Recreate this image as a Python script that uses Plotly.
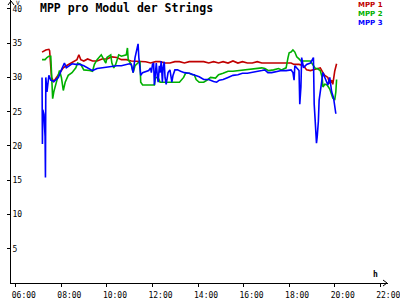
import plotly.graph_objects as go

# ---------------- data ----------------
mpp1_t = ["07:09","07:14","07:19","07:27","07:29","07:34","07:40","07:47","07:57","08:05","08:13","08:23","08:33","08:41","08:46","08:51","08:59","09:09","09:22","09:34","09:47","10:00","10:13","10:26","10:38","10:51","11:04","11:17","11:29","11:42","11:55","12:08","12:20","12:33","12:46","12:59","13:11","13:24","13:37","13:50","14:03","14:15","14:28","14:41","14:54","15:06","15:19","15:32","15:45","15:57","16:10","16:23","16:36","16:48","17:01","17:14","17:27","17:40","17:52","18:05","18:13","18:26","18:38","18:46","18:56","19:04","19:14","19:22","19:29","19:34","19:42","19:47","19:52","19:55","20:00","20:03","20:05"]
mpp1_v = [33.7,33.9,34.0,34.1,33.9,30.0,29.4,30.0,30.7,31.4,31.7,32.0,32.3,32.6,33.3,32.6,32.4,32.7,32.4,32.4,32.7,32.7,33.0,32.9,32.6,32.6,32.4,32.4,32.3,32.3,32.1,32.3,32.3,32.1,32.1,32.3,32.3,32.1,32.3,32.3,32.4,32.3,32.1,32.3,32.1,32.3,32.1,32.4,32.1,32.3,32.1,32.1,32.3,32.1,32.1,32.1,32.1,32.1,32.0,32.1,31.9,31.9,31.7,31.1,31.0,31.1,31.3,31.4,30.7,30.3,30.0,29.1,29.6,29.0,30.9,31.7,32.0]

mpp2_t = ["07:09","07:17","07:22","07:27","07:32","07:34","07:37","07:40","07:45","07:50","07:55","08:00","08:05","08:10","08:18","08:28","08:38","08:43","08:51","08:59","09:09","09:14","09:22","09:27","09:34","09:45","09:52","09:57","10:00","10:10","10:13","10:18","10:23","10:31","10:38","10:51","10:54","10:56","11:04","11:09","11:14","11:22","11:27","11:29","11:34","12:05","12:08","12:15","12:20","12:38","13:11","13:22","13:27","13:37","13:45","13:50","13:55","14:03","14:15","14:26","14:33","14:46","14:54","15:06","15:19","15:32","15:45","15:57","16:10","16:23","16:36","16:48","16:56","17:06","17:19","17:32","17:40","17:52","17:57","18:00","18:05","18:10","18:15","18:20","18:26","18:31","18:56","19:01","19:09","19:14","19:22","19:27","19:29","19:34","19:40","19:47","19:55","20:00","20:03","20:05"]
mpp2_v = [32.6,32.6,32.9,33.1,33.1,30.0,26.9,27.9,28.9,30.3,31.0,30.0,28.1,29.3,30.3,30.7,31.4,32.1,31.9,31.1,31.1,31.0,30.9,31.9,32.6,33.3,32.6,32.1,32.9,33.3,32.1,31.4,31.9,33.3,33.1,33.3,34.3,32.6,31.9,30.7,31.7,32.1,32.4,29.3,28.9,28.9,30.0,30.0,29.3,29.3,29.3,30.0,30.6,30.6,30.4,30.4,29.7,29.3,29.3,29.7,30.0,29.9,30.4,30.6,30.9,30.9,31.0,31.1,31.1,31.3,31.3,31.4,31.3,31.0,31.1,31.3,31.1,31.4,32.9,33.6,33.7,34.0,33.7,33.0,32.7,32.4,32.4,32.0,31.3,31.3,31.0,30.0,28.6,29.0,28.9,28.3,27.0,26.7,27.9,29.7]

mpp3_t = ["07:09","07:10","07:11","07:14","07:17","07:18","07:19","07:22","07:24","07:27","07:29","07:32","07:40","07:47","07:52","08:00","08:08","08:13","08:20","08:28","08:38","08:49","08:59","09:09","09:17","09:22","09:34","09:47","10:00","10:13","10:26","10:38","10:51","10:59","11:04","11:09","11:14","11:19","11:22","11:24","11:27","11:29","11:34","11:42","11:50","11:55","11:57","12:00","12:03","12:05","12:08","12:10","12:13","12:15","12:18","12:20","12:23","12:26","12:28","12:31","12:33","12:36","12:41","12:46","12:51","12:54","12:59","13:06","13:14","13:24","13:37","13:50","14:03","14:15","14:28","14:41","14:49","14:56","15:06","15:19","15:32","15:45","15:57","16:10","16:23","16:36","16:48","16:56","17:04","17:14","17:27","17:40","17:52","18:00","18:05","18:10","18:13","18:15","18:20","18:26","18:28","18:31","18:33","18:38","18:46","18:51","18:56","19:04","19:06","19:09","19:12","19:14","19:17","19:19","19:24","19:29","19:34","19:42","19:47","19:52","19:57","20:00","20:03"]
mpp3_v = [30.0,20.3,25.3,24.6,21.4,15.4,30.0,27.9,29.3,30.3,30.0,29.6,29.4,29.7,30.0,31.1,32.1,31.4,31.7,32.0,31.9,31.9,31.7,31.4,31.1,31.0,31.3,31.4,31.6,31.7,31.7,31.7,31.9,32.0,31.9,30.7,32.9,34.3,34.9,32.9,31.4,30.3,30.7,30.9,31.0,31.4,30.7,31.9,32.1,28.9,30.3,32.1,30.0,29.3,31.7,30.7,32.4,29.3,31.4,32.3,30.0,29.0,30.7,31.1,29.3,30.3,31.1,31.1,30.9,30.7,30.6,30.3,30.1,29.7,29.7,29.4,29.3,29.6,29.7,30.0,30.3,30.4,30.6,30.6,30.7,30.9,31.0,31.1,30.7,30.7,30.9,31.0,31.0,31.0,31.1,30.7,29.6,31.7,31.4,31.0,26.1,28.6,32.9,31.4,31.9,32.0,32.1,32.9,26.1,23.3,20.4,21.4,23.6,26.7,29.0,30.7,30.0,28.9,30.0,27.9,27.0,25.4,24.7]

series_names = ["MPP 1", "MPP 2", "MPP 3"]
series_colors = ["#c00000", "#00b000", "#0000ff"]

x_tick_vals = [6, 8, 10, 12, 14, 16, 18, 20, 22]
x_tick_text = ["06:00", "08:00", "10:00", "12:00", "14:00", "16:00", "18:00", "20:00", "22:00"]
y_tick_vals = [5, 10, 15, 20, 25, 30, 35, 40]
title_text = "MPP pro Modul der Strings"


def to_h(t):
    hh, mm = t.split(":")
    return int(hh) + int(mm) / 60.0


MONO = "DejaVu Sans Mono"

fig = go.Figure()
for name, color, ts, vs in zip(series_names, series_colors,
                               [mpp1_t, mpp2_t, mpp3_t],
                               [mpp1_v, mpp2_v, mpp3_v]):
    fig.add_trace(go.Scatter(x=[to_h(t) for t in ts], y=vs, mode="lines",
                             name=name, line=dict(color=color, width=1.6),
                             showlegend=False, hoverinfo="skip"))

W, H = 400, 300
ML, MB = 11, 10
PW = W - ML
PH = H - MB

fig.update_layout(
    width=W, height=H,
    margin=dict(l=ML, r=0, t=0, b=MB),
    paper_bgcolor="white", plot_bgcolor="white",
    title=dict(text=title_text, x=40 / W, xref="container", xanchor="left",
               y=1 - 8 / H, yref="container", yanchor="middle",
               font=dict(family=MONO, size=11.5, color="black", weight="bold")),
    xaxis=dict(range=[6 - 5 / 23.5, 6 + (PW - 5) / 23.5],
               tickvals=x_tick_vals, ticktext=x_tick_text,
               showgrid=False, zeroline=False, showline=True,
               linecolor="black", linewidth=1,
               ticks="outside", ticklen=3, tickcolor="black",
               ticklabelshift=8, ticklabelstandoff=1,
               ticklabeloverflow="allow",
               tickfont=dict(family=MONO, size=8, color="black")),
    yaxis=dict(range=[0, 41.3],
               tickvals=y_tick_vals, ticktext=[str(v) for v in y_tick_vals],
               showgrid=False, zeroline=False, showline=True,
               linecolor="black", linewidth=1,
               ticks="outside", ticklen=3, tickcolor="black",
               ticklabelposition="inside", ticklabeloverflow="allow",
               tickfont=dict(family=MONO, size=8, color="black")),
)

# legend as one block of coloured labels at top right
legend_text = "<br>".join(
    f"<span style='color:{c}'>{n}</span>" for n, c in zip(series_names, series_colors))
fig.add_annotation(text=legend_text, xref="paper", yref="paper",
                   x=(396 - ML) / PW, y=(PH - 0) / PH,
                   xanchor="right", yanchor="top", align="right", showarrow=False,
                   borderpad=0,
                   font=dict(family="DejaVu Sans", size=7, color="black", weight="bold"))

# axis unit labels
fig.add_annotation(text="V", xref="paper", yref="paper", x=(18 - ML) / PW,
                   y=(PH - 3) / PH, xanchor="center", yanchor="middle",
                   showarrow=False, font=dict(family=MONO, size=6, color="black"))
fig.add_annotation(text="h", xref="paper", yref="paper", x=(387 - ML) / PW,
                   y=(PH - 281) / PH, xanchor="center", yanchor="middle",
                   showarrow=False, font=dict(family=MONO, size=8, color="black", weight="bold"))

# arrow heads on the axes
arrow = dict(color="black", width=1)
fig.add_shape(type="path", xref="paper", yref="paper", xsizemode="pixel",
              ysizemode="pixel", xanchor=1, yanchor=0,
              path="M -5 3 L -1 0 L -5 -3", line=arrow)
fig.add_shape(type="path", xref="paper", yref="paper", xsizemode="pixel",
              ysizemode="pixel", xanchor=0, yanchor=1,
              path="M -3 -5 L 0 -1 L 3 -5", line=arrow)

fig.write_html("out.html")
